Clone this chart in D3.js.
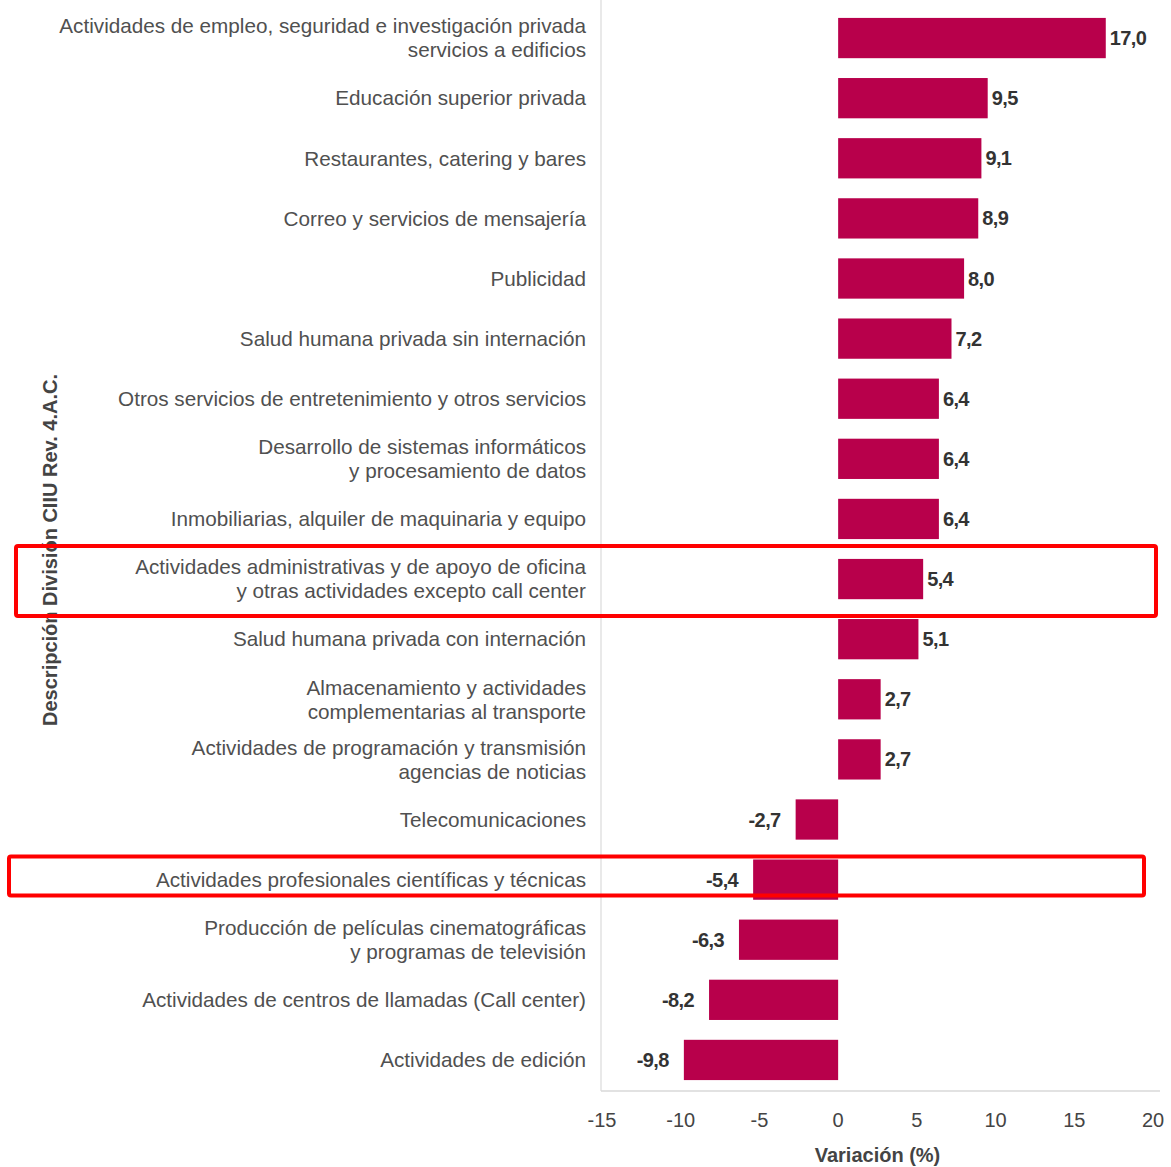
<!DOCTYPE html>
<html>
<head>
<meta charset="utf-8">
<script src="https://cdn.jsdelivr.net/npm/d3@7"></script>
<style>
  body { margin: 0; background: #fff; }
  svg { display: block; }
</style>
</head>
<body>
<svg id="chart" width="1171" height="1167"></svg>
<script>
// categories (top to bottom), multi-line labels split by "|"
const categories = [
  "Actividades de empleo, seguridad e investigación privada|servicios a edificios",
  "Educación superior privada",
  "Restaurantes, catering y bares",
  "Correo y servicios de mensajería",
  "Publicidad",
  "Salud humana privada sin internación",
  "Otros servicios de entretenimiento y otros servicios",
  "Desarrollo de sistemas informáticos|y procesamiento de datos",
  "Inmobiliarias, alquiler de maquinaria y equipo",
  "Actividades administrativas y de apoyo de oficina|y otras actividades excepto call center",
  "Salud humana privada con internación",
  "Almacenamiento y actividades|complementarias al transporte",
  "Actividades de programación y transmisión|agencias de noticias",
  "Telecomunicaciones",
  "Actividades profesionales científicas y técnicas",
  "Producción de películas cinematográficas|y programas de televisión",
  "Actividades de centros de llamadas (Call center)",
  "Actividades de edición"
];
const values = [17.0, 9.5, 9.1, 8.9, 8.0, 7.2, 6.4, 6.4, 6.4, 5.4, 5.1, 2.7, 2.7, -2.7, -5.4, -6.3, -8.2, -9.8];
const xTicks = [-15, -10, -5, 0, 5, 10, 15, 20];
const highlighted = [9, 14];

const svg = d3.select("#chart");
const font = "'Liberation Sans', Arial, sans-serif";

const x = d3.scaleLinear().domain([-15, 20]).range([602, 1153]);
const y = d3.scaleBand().domain(d3.range(categories.length)).range([8, 1090]).paddingInner(0.33).paddingOuter(0.165);

// axis lines
svg.append("line")
  .attr("x1", 601).attr("x2", 601).attr("y1", 0).attr("y2", 1091)
  .attr("stroke", "#e2e2e2").attr("stroke-width", 1.5);
svg.append("line")
  .attr("x1", 601).attr("x2", 1160).attr("y1", 1091).attr("y2", 1091)
  .attr("stroke", "#d8d8d8").attr("stroke-width", 1.5);

// bars
svg.selectAll(".bar")
  .data(values)
  .enter().append("rect")
  .attr("class", "bar")
  .attr("x", d => x(Math.min(0, d)))
  .attr("y", (d, i) => y(i))
  .attr("width", d => Math.abs(x(d) - x(0)))
  .attr("height", y.bandwidth())
  .attr("fill", "#b8004b");

// value labels (hyphen minus, comma decimal)
const fmt = d => d.toFixed(1).replace(".", ",");
svg.selectAll(".val")
  .data(values)
  .enter().append("text")
  .attr("class", "val")
  .attr("x", d => d >= 0 ? x(d) + 4 : x(d) - 15)
  .attr("y", (d, i) => y(i) + y.bandwidth() / 2)
  .attr("dy", "0.35em")
  .attr("text-anchor", d => d >= 0 ? "start" : "end")
  .attr("font-family", "'Liberation Sans Narrow', " + font)
  .attr("font-weight", "bold")
  .attr("font-size", 20)
  .attr("letter-spacing", -0.6)
  .attr("fill", "#333")
  .text(fmt);

// category labels
const lab = svg.selectAll(".cat")
  .data(categories)
  .enter().append("text")
  .attr("class", "cat")
  .attr("text-anchor", "end")
  .attr("font-family", font)
  .attr("font-size", 20.7)
  .attr("fill", "#505050");
lab.each(function(d, i) {
  const lines = d.split("|");
  const cy = y(i) + y.bandwidth() / 2;
  const t = d3.select(this);
  lines.forEach((s, k) => {
    t.append("tspan")
      .attr("x", 586)
      .attr("y", cy + (k - (lines.length - 1) / 2) * 24)
      .attr("dy", "0.35em")
      .text(s);
  });
});

// x axis tick labels
svg.selectAll(".tick")
  .data(xTicks)
  .enter().append("text")
  .attr("class", "tick")
  .attr("x", d => x(d))
  .attr("y", 1120)
  .attr("dy", "0.35em")
  .attr("text-anchor", "middle")
  .attr("font-family", font)
  .attr("font-size", 20)
  .attr("fill", "#444")
  .text(d => d);

// axis titles
svg.append("text")
  .attr("x", (x(-15) + x(20)) / 2)
  .attr("y", 1155)
  .attr("dy", "0.35em")
  .attr("text-anchor", "middle")
  .attr("font-family", font)
  .attr("font-weight", "bold")
  .attr("font-size", 20)
  .attr("fill", "#444")
  .text("Variación (%)");

svg.append("text")
  .attr("transform", "translate(50,550) rotate(-90)")
  .attr("dy", "0.35em")
  .attr("text-anchor", "middle")
  .attr("font-family", font)
  .attr("font-weight", "bold")
  .attr("font-size", 20)
  .attr("fill", "#444")
  .text("Descripción División CIIU Rev. 4.A.C.");

// highlight boxes
const boxes = [
  { i: highlighted[0], x1: 16, x2: 1156, top: -33, bottom: 37 },
  { i: highlighted[1], x1: 9, x2: 1144, top: -23, bottom: 16 }
];
svg.selectAll(".hl")
  .data(boxes)
  .enter().append("rect")
  .attr("class", "hl")
  .attr("x", d => d.x1)
  .attr("y", d => y(d.i) + y.bandwidth() / 2 + d.top)
  .attr("width", d => d.x2 - d.x1)
  .attr("height", d => d.bottom - d.top)
  .attr("rx", 2)
  .attr("fill", "none")
  .attr("stroke", "#ff0000")
  .attr("stroke-width", 4);
</script>
</body>
</html>
